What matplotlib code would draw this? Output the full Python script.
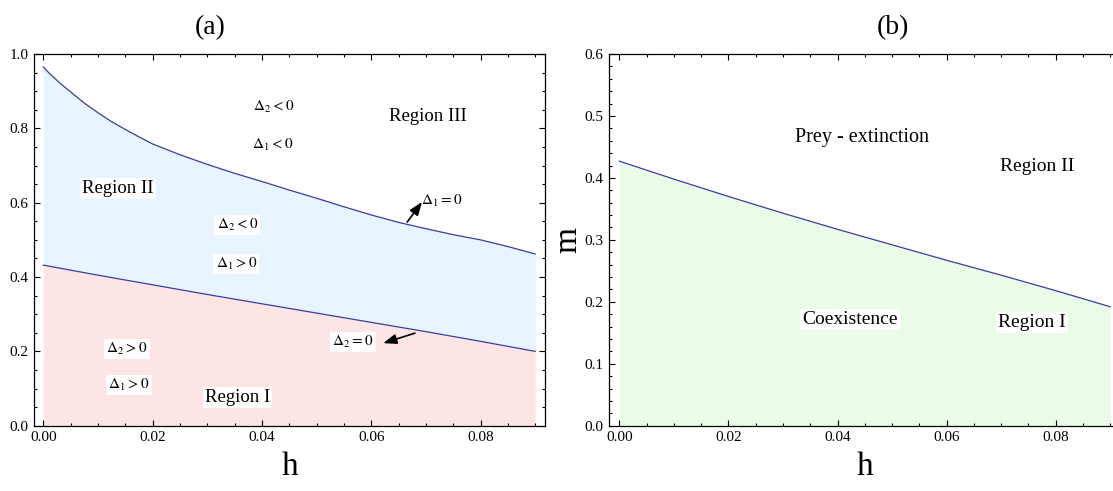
import numpy as np
import matplotlib
matplotlib.use('Agg')
import matplotlib.pyplot as plt
from matplotlib.ticker import MultipleLocator, FormatStrFormatter

plt.rcParams['font.family'] = ['Liberation Serif', 'DejaVu Serif']
plt.rcParams['mathtext.fontset'] = 'stix'

# ===== data =====
h_upper = [0, 0.00125, 0.0025, 0.00375, 0.005, 0.0075, 0.01, 0.0125, 0.015, 0.0175, 0.02,
           0.025, 0.03, 0.035, 0.04, 0.045, 0.05, 0.055, 0.06, 0.065, 0.07, 0.075, 0.08, 0.085, 0.09]
m_delta1 = [0.965, 0.946, 0.929, 0.913, 0.898, 0.868, 0.842, 0.818, 0.797, 0.777, 0.758,
            0.729, 0.703, 0.679, 0.657, 0.634, 0.612, 0.589, 0.567, 0.547, 0.530, 0.514, 0.500, 0.482, 0.462]

h_lower = [0, 0.01, 0.02, 0.03, 0.04, 0.05, 0.06, 0.07, 0.08, 0.09]
m_delta2 = [0.432, 0.405, 0.379, 0.353, 0.328, 0.303, 0.278, 0.253, 0.227, 0.200]
m_prey = [0.427, 0.398, 0.370, 0.343, 0.317, 0.292, 0.267, 0.243, 0.218, 0.192]

line_c = '#3c3ca0'
pink = '#fde4e5'
blue = '#e8f4ff'
green = '#eafbe8'

fig = plt.figure(figsize=(11.13, 4.91), dpi=100)
ax1 = fig.add_axes([34/1113, 65.3/491, 511/1113, 371.7/491])
ax2 = fig.add_axes([609/1113, 65.3/491, 511/1113, 371.7/491])

def style(ax, xlim, ylim, ymaj, ymin):
    ax.set_xlim(*xlim)
    ax.set_ylim(*ylim)
    ax.xaxis.set_major_locator(MultipleLocator(0.02))
    ax.xaxis.set_minor_locator(MultipleLocator(0.005))
    ax.yaxis.set_major_locator(MultipleLocator(ymaj))
    ax.yaxis.set_minor_locator(MultipleLocator(ymin))
    ax.tick_params(which='both', direction='in', top=True, right=True, labelsize=11, width=0.8)
    ax.tick_params(which='major', length=4.5, pad=4)
    ax.tick_params(which='minor', length=2.5)
    ax.xaxis.set_major_formatter(FormatStrFormatter('%.2f'))
    ax.yaxis.set_major_formatter(FormatStrFormatter('%.1f'))
    for s in ax.spines.values():
        s.set_linewidth(0.9)

# ===== (a) =====
lo_on_up = np.interp(h_upper, h_lower, m_delta2)
ax1.fill_between(h_lower, 0, m_delta2, color=pink, lw=0)
ax1.fill_between(h_upper, lo_on_up, m_delta1, color=blue, lw=0)
ax1.plot(h_upper, m_delta1, color=line_c, lw=0.9)
ax1.plot(h_lower, m_delta2, color=line_c, lw=0.9)
style(ax1, (-0.0017, 0.0918), (0, 1.0), 0.2, 0.05)

wb = dict(facecolor='white', edgecolor='none', pad=1.5)
fs_d = 11
fs_r = 13.5
ax1.text(0.0421, 0.858, r'$\Delta_2 < 0$', fontsize=fs_d, ha='center', va='center')
ax1.text(0.0419, 0.755, r'$\Delta_1 < 0$', fontsize=fs_d, ha='center', va='center')
ax1.text(0.0704, 0.833, 'Region III', fontsize=fs_r, ha='center', va='center')
ax1.text(0.0137, 0.639, 'Region II', fontsize=fs_r, ha='center', va='center', bbox=wb)
ax1.text(0.0355, 0.540, r'$\Delta_2 < 0$', fontsize=fs_d, ha='center', va='center', bbox=wb)
ax1.text(0.0353, 0.435, r'$\Delta_1 > 0$', fontsize=fs_d, ha='center', va='center', bbox=wb)
ax1.text(0.0691, 0.605, r'$\Delta_1 = 0$', fontsize=fs_d, ha='left', va='center')
ax1.text(0.0567, 0.225, r'$\Delta_2 = 0$', fontsize=fs_d, ha='center', va='center', bbox=wb)
ax1.text(0.0153, 0.206, r'$\Delta_2 > 0$', fontsize=fs_d, ha='center', va='center', bbox=wb)
ax1.text(0.0157, 0.110, r'$\Delta_1 > 0$', fontsize=fs_d, ha='center', va='center', bbox=wb)
ax1.text(0.0355, 0.075, 'Region I', fontsize=fs_r, ha='center', va='center', bbox=wb)

arr = dict(arrowstyle='-|>,head_length=0.8,head_width=0.3', color='black', lw=1.2, shrinkA=0, shrinkB=0)
ax1.annotate('', xy=(0.0693, 0.602), xytext=(0.0666, 0.548), arrowprops=arr)
ax1.annotate('', xy=(0.0622, 0.222), xytext=(0.0680, 0.249), arrowprops=arr)
ax1.set_xlabel('h', fontsize=24, labelpad=5)

# ===== (b) =====
ax2.fill_between(h_lower, 0, m_prey, color=green, lw=0)
ax2.plot(h_lower, m_prey, color=line_c, lw=0.9)
style(ax2, (-0.0019, 0.0918), (0, 0.6), 0.1, 0.02)
ax2.text(0.0445, 0.466, 'Prey - extinction', fontsize=14.5, ha='center', va='center')
ax2.text(0.0766, 0.419, 'Region II', fontsize=14, ha='center', va='center')
ax2.text(0.0423, 0.171, 'Coexistence', fontsize=14, ha='center', va='center', bbox=wb)
ax2.text(0.0757, 0.167, 'Region I', fontsize=14, ha='center', va='center', bbox=wb)
ax2.set_xlabel('h', fontsize=24, labelpad=5)
ax2.set_ylabel('m', fontsize=24, labelpad=1)

fig.text(210/1113, 1 - 28/491, '(a)', fontsize=20, ha='center', va='center')
fig.text(893/1113, 1 - 28/491, '(b)', fontsize=20, ha='center', va='center')

fig.savefig('out.png', dpi=100)
